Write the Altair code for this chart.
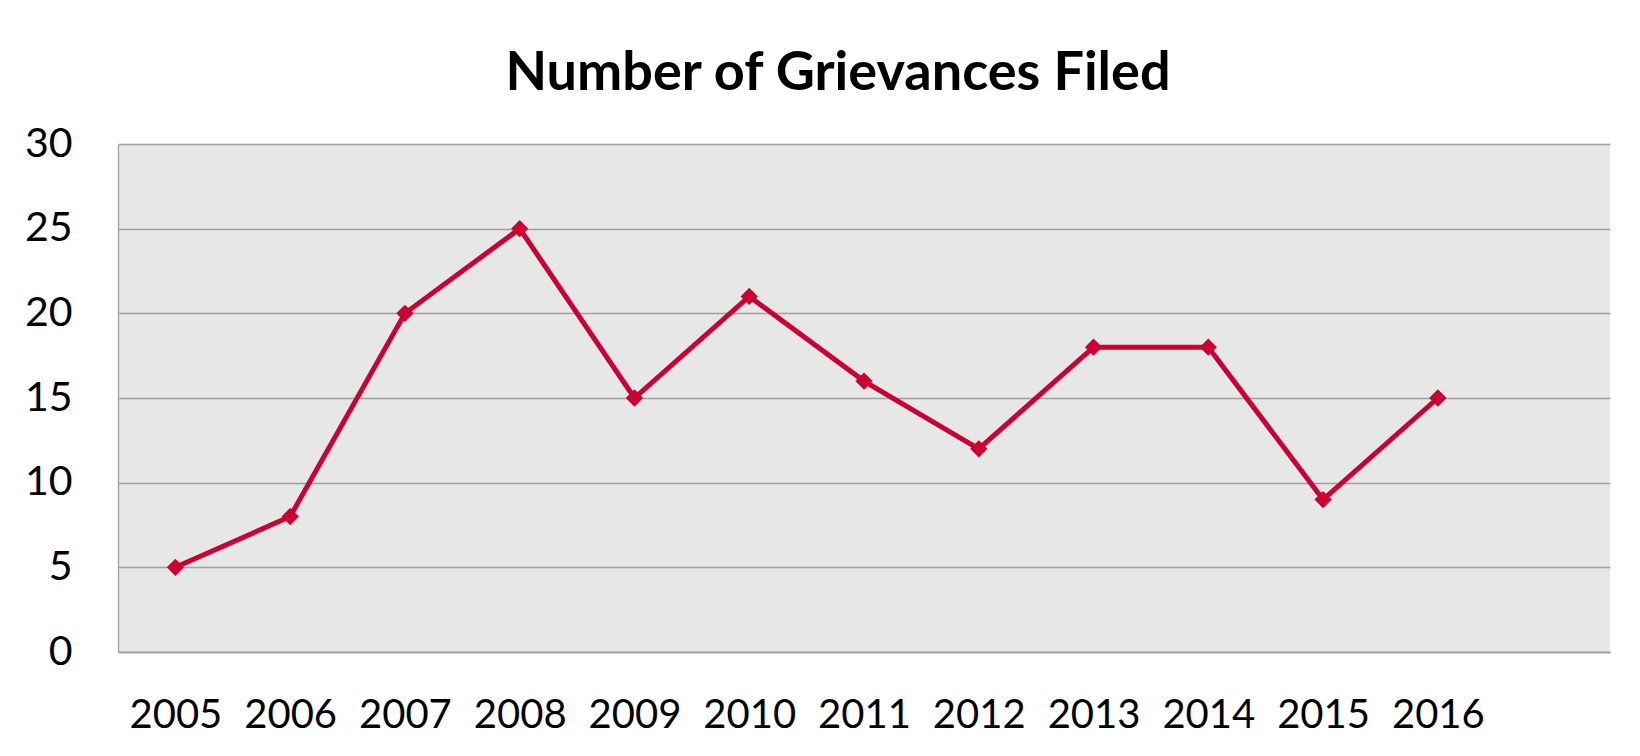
import altair as alt
import pandas as pd

years = [2005, 2006, 2007, 2008, 2009, 2010, 2011, 2012, 2013, 2014, 2015, 2016]
grievances = [5, 8, 20, 25, 15, 21, 16, 12, 18, 18, 9, 15]
y_ticks = [0, 5, 10, 15, 20, 25, 30]

df = pd.DataFrame({"year": years, "count": grievances})

FONT = "Lato"
RED = "#cc0033"

x = alt.X(
    "year:Q",
    scale=alt.Scale(domain=[2004.5, 2017.5], nice=False, zero=False),
    axis=alt.Axis(
        values=years, format="d", title=None, grid=False, ticks=False,
        domain=True, domainColor="#a0a0a0", domainWidth=1.3,
        labelFontSize=40, labelFont=FONT, labelColor="#000000",
        labelPadding=43, labelFlush=False, labelOverlap=False,
    ),
)
y = alt.Y(
    "count:Q",
    scale=alt.Scale(domain=[0, 30], nice=False),
    axis=alt.Axis(
        values=y_ticks, title=None, ticks=False, grid=True,
        gridColor="#a0a0a0", gridWidth=1.3,
        domain=True, domainColor="#a0a0a0", domainWidth=1.3,
        labelFontSize=41, labelFont=FONT, labelColor="#000000",
        labelPadding=46,
    ),
)

line = alt.Chart(df).mark_line(color=RED, strokeWidth=5).encode(x=x, y=y)
points = alt.Chart(df).mark_point(
    shape="diamond", filled=True, color=RED, size=300, opacity=1
).encode(x=x, y=y)

chart = (
    alt.layer(line, points)
    .properties(
        width=1492,
        height=508,
        background="#ffffff",
        title=alt.TitleParams(
            "Number of Grievances Filed",
            font=FONT, fontSize=54, fontWeight="bold", color="#000000",
            anchor="middle", dx=-26, offset=22,
        ),
        autosize=alt.AutoSizeParams(type="none"),
        padding={"left": 110, "top": 136, "right": 12, "bottom": 88},
    )
    .configure_view(fill="#e7e7e7", stroke="#e7e7e7", strokeWidth=0)
)

chart.save("out.html", embed_options={"renderer": "svg", "actions": False})
